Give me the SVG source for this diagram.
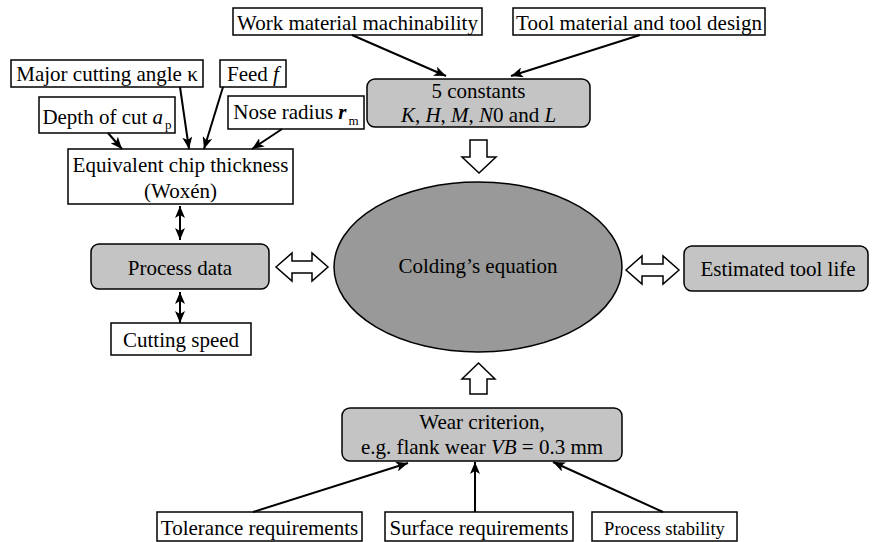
<svg xmlns="http://www.w3.org/2000/svg" width="872" height="542" viewBox="0 0 872 542" font-family="'Liberation Serif', 'Times New Roman', Times, 'DejaVu Serif', serif">
<style>
text{font-family:'Liberation Serif','Times New Roman',Times,'DejaVu Serif',serif;font-size:21px;fill:#000;text-anchor:middle}
.box{fill:#fff;stroke:#000;stroke-width:1.5}
.rbox{fill:#c4c4c4;stroke:#000;stroke-width:1.5}
.ell{fill:#999;stroke:#000;stroke-width:1.5}
.blk{fill:#fff;stroke:#000;stroke-width:1.5;stroke-linejoin:miter}
.ln{fill:none;stroke:#000;stroke-width:2}
.i{font-style:italic}
.sub{font-size:13px}
.sm{font-size:18.5px}
</style>
<defs>
<marker id="ah" viewBox="0 0 12 10" refX="12" refY="5" markerWidth="12" markerHeight="10" orient="auto-start-reverse" markerUnits="userSpaceOnUse">
<path d="M0,0 L12,5 L0,10 L3,5 Z" fill="#000"/>
</marker>
</defs>
<g id="n-work"><rect class="box" x="233" y="8" width="249" height="27"/><text x="357.5" y="30">Work material machinability</text></g>
<g id="n-tool"><rect class="box" x="513" y="8" width="252" height="27"/><text x="639" y="30">Tool material and tool design</text></g>
<g id="n-major"><rect class="box" x="11" y="60" width="192" height="27"/><text x="107" y="81">Major cutting angle κ</text></g>
<g id="n-feed"><rect class="box" x="220" y="60" width="66" height="27"/><text x="253" y="81">Feed <tspan class="i">f</tspan></text></g>
<g id="n-depth"><rect class="box" x="39" y="97" width="136" height="36"/><text x="107" y="124">Depth of cut <tspan class="i">a</tspan><tspan class="sub" dx="2" dy="5">p</tspan></text></g>
<g id="n-nose"><rect class="box" x="228" y="96" width="136" height="33"/><text x="296" y="119">Nose radius <tspan class="i" font-weight="bold">r</tspan><tspan class="sub" dx="2" dy="6">m</tspan></text></g>
<g id="n-const"><rect class="rbox" x="367" y="79" width="223" height="48" rx="8"/><text x="478.5" y="98">5 constants</text><text x="478.5" y="122"><tspan class="i">K</tspan>, <tspan class="i">H</tspan>, <tspan class="i">M</tspan>, <tspan class="i">N</tspan>0 and <tspan class="i">L</tspan></text></g>
<g id="n-equiv"><rect class="box" x="68" y="149" width="225" height="55"/><text x="180.5" y="172">Equivalent chip thickness</text><text x="180.5" y="198">(Woxén)</text></g>
<g id="n-process"><rect class="rbox" x="91" y="244" width="178" height="45" rx="8"/><text x="180" y="275">Process data</text></g>
<g id="n-speed"><rect class="box" x="111" y="323" width="140" height="32"/><text x="181" y="347">Cutting speed</text></g>
<g id="n-colding"><ellipse class="ell" cx="478" cy="267" rx="144" ry="85"/><text x="478" y="273">Colding’s equation</text></g>
<g id="n-life"><rect class="rbox" x="684" y="246" width="184" height="45" rx="8"/><text x="778" y="276">Estimated tool life</text></g>
<g id="n-wear"><rect class="rbox" x="342" y="408" width="280" height="53" rx="8"/><text x="482" y="429">Wear criterion,</text><text x="482" y="454">e.g. flank wear <tspan class="i">VB</tspan> = 0.3 mm</text></g>
<g id="n-tol"><rect class="box" x="157" y="512" width="205" height="29"/><text x="259.5" y="535">Tolerance requirements</text></g>
<g id="n-surf"><rect class="box" x="385" y="512" width="188" height="29"/><text x="479" y="535">Surface requirements</text></g>
<g id="n-stab"><rect class="box" x="592" y="512" width="145" height="29"/><text class="sm" x="664.5" y="535">Process stability</text></g>
<g id="connectors">
<line class="ln" x1="352" y1="35" x2="446" y2="76" marker-end="url(#ah)"/>
<line class="ln" x1="640" y1="35" x2="511" y2="76" marker-end="url(#ah)"/>
<line class="ln" x1="108" y1="133" x2="122" y2="149" marker-end="url(#ah)"/>
<line class="ln" x1="180" y1="87" x2="189" y2="149" marker-end="url(#ah)"/>
<line class="ln" x1="223" y1="87" x2="204" y2="149" marker-end="url(#ah)"/>
<line class="ln" x1="282" y1="129" x2="252" y2="149" marker-end="url(#ah)"/>
<line class="ln" x1="180" y1="206" x2="180" y2="240" marker-start="url(#ah)" marker-end="url(#ah)"/>
<line class="ln" x1="180" y1="292" x2="180" y2="323" marker-start="url(#ah)" marker-end="url(#ah)"/>
<line class="ln" x1="253" y1="512" x2="408" y2="463" marker-end="url(#ah)"/>
<line class="ln" x1="475" y1="512" x2="475" y2="462" marker-end="url(#ah)"/>
<line class="ln" x1="663" y1="512" x2="553" y2="462" marker-end="url(#ah)"/>
<path class="blk" d="M276,267 L292,253 L292,261 L312,261 L312,253 L328,267 L312,281 L312,273 L292,273 L292,281 Z"/>
<path class="blk" d="M626,270 L642,256 L642,264 L663,264 L663,256 L679,270 L663,284 L663,276 L642,276 L642,284 Z"/>
<path class="blk" d="M470,140 L487,140 L487,157 L496,157 L479,173 L462,157 L470,157 Z"/>
<path class="blk" d="M478.5,363 L495,379 L487,379 L487,394 L470,394 L470,379 L462,379 Z"/>
</g>
</svg>
